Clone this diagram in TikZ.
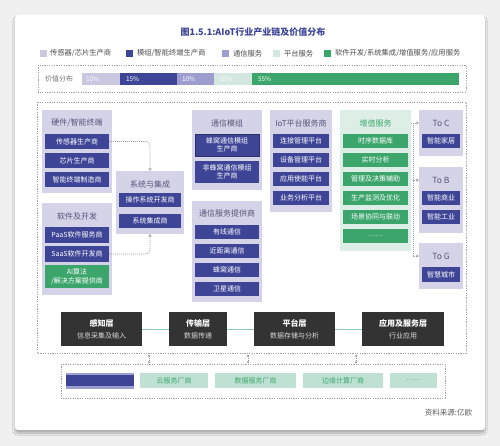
\documentclass[tikz,border=0pt]{standalone}
\usepackage{fontspec}
\setmainfont{Noto Sans CJK SC}
\usetikzlibrary{arrows.meta,shadows.blur}
\definecolor{lav}{HTML}{D5D3E7}
\definecolor{lavL}{HTML}{CAC8E0}
\definecolor{navy}{HTML}{3E4596}
\definecolor{peri}{HTML}{9D9ECF}
\definecolor{mintL}{HTML}{D3E6DF}
\definecolor{mintP}{HTML}{DCEEE6}
\definecolor{mintB}{HTML}{BFE1D4}
\definecolor{grn}{HTML}{3CA56C}
\definecolor{ttl}{HTML}{55557A}
\definecolor{dk}{HTML}{333333}
\definecolor{gline}{HTML}{8FCCAE}
\definecolor{dsh}{HTML}{A0A0A0}
\newcommand\bx[7]{\node[#6,anchor=north west,minimum width=#4pt-#2pt,minimum height=#5pt-#3pt] (#1) at (#2,#3) {#7};}
\tikzset{
  every node/.style={inner sep=0pt,outer sep=0pt,align=center},
  panel/.style={fill=lav},
  mpanel/.style={fill=mintP},
  item/.style={fill=navy,text=white,font=\fontsize{7}{8.5}\selectfont},
  gitem/.style={fill=grn,text=white,font=\fontsize{7}{8.5}\selectfont},
  ptitle/.style={text=ttl,font=\fontsize{8}{9}\selectfont},
  layerbox/.style={fill=dk,text=white},
  vitem/.style={fill=mintB,text=grn,font=\fontsize{7}{8}\selectfont},
  dbox/.style={draw=dsh,line width=0.6pt,dash pattern=on 1.2pt off 1.2pt},
  darr/.style={draw=dsh,line width=0.7pt,dash pattern=on 1pt off 1pt,-{Stealth[length=3pt,width=3pt]}},
  legtxt/.style={text=black!70,font=\fontsize{7.3}{8}\selectfont,anchor=west},
  bartxt/.style={font=\fontsize{6.5}{7}\selectfont,anchor=west},
}
\begin{document}
\begin{tikzpicture}[x=1pt,y=-1pt]
\useasboundingbox (0,0) rectangle (500,446);
\fill[black!6] (0,0) rectangle (500,446);
\fill[white,rounded corners=3pt,blur shadow={shadow xshift=0pt,shadow yshift=-3pt,shadow blur steps=10,shadow opacity=30}] (15,15) rectangle (485,430);
% title
\node[text=navy,font=\bfseries\fontsize{9}{10}\selectfont] (title) at (253,32) {图1.5.1:AIoT行业产业链及价值分布};
% legend
\fill[lavL] (40,50) rectangle (47,57);
\node[legtxt] (lg1) at (50,53.5) {传感器/芯片生产商};
\fill[navy] (126,50) rectangle (133,57);
\node[legtxt] (lg2) at (137,53.5) {模组/智能终端生产商};
\fill[peri] (222,50) rectangle (229,57);
\node[legtxt] (lg3) at (233,53.5) {通信服务};
\fill[mintL] (273,50) rectangle (280,57);
\node[legtxt] (lg4) at (284,53.5) {平台服务};
\fill[grn] (324,50) rectangle (331,57);
\node[legtxt] (lg5) at (335,53.5) {软件开发/系统集成/增值服务/应用服务};
% value bar
\draw[dbox] (38,65) rectangle (466,92);
\node[text=black!55,font=\fontsize{7}{8}\selectfont,anchor=west] (vl) at (45,79) {价值分布};
\bx{v1}{82}{73}{120}{85}{fill=lavL}{}
\bx{v2}{120}{73}{177}{85}{fill=navy}{}
\bx{v3}{177}{73}{214}{85}{fill=peri}{}
\bx{v4}{214}{73}{252}{85}{fill=mintL}{}
\bx{v5}{252}{73}{459}{85}{fill=grn}{}
\node[bartxt,text=white!90!lavL] at (86,79) {10\%};
\node[bartxt,text=white] at (126,79) {15\%};
\node[bartxt,text=white] at (182,79) {10\%};
\node[bartxt,text=white] at (219,79) {10\%};
\node[bartxt,text=white] at (258,79) {55\%};
% main dashed box
\draw[dbox] (37,102) rectangle (466,353);
% hardware
\bx{hw}{42}{110}{112}{193}{panel}{}
\node[ptitle] (hwT) at (77,123) {硬件/智能终端};
\bx{hw1}{45}{134}{109}{149}{item}{传感器生产商}
\bx{hw2}{45}{153}{109}{168}{item}{芯片生产商}
\bx{hw3}{45}{172}{109}{187}{item}{智能终端制造商}
% software
\bx{sw}{42}{203}{112}{295}{panel}{}
\node[ptitle] (swT) at (77,216) {软件及开发};
\bx{sw1}{45}{227}{109}{243}{item}{PaaS软件服务商}
\bx{sw2}{45}{246}{109}{262}{item}{SaaS软件开发商}
\bx{sw3}{45}{265}{109}{288}{gitem}{AI算法\\/解决方案提供商}
% system
\bx{sys}{116}{171}{184}{234}{panel}{}
\node[ptitle] (sysT) at (150,184) {系统与集成};
\bx{sys1}{119}{193}{181}{207}{item}{操作系统开发商}
\bx{sys2}{119}{214}{181}{228}{item}{系统集成商}
\draw[darr,rounded corners=4pt] (hw1.east) -| (sys.north);
\draw[darr,rounded corners=4pt] (sw2.east) -| (sys.south);
% comm module
\bx{cm}{192}{110}{262}{190}{panel}{}
\node[ptitle] (cmT) at (227,123) {通信模组};
\bx{cm1}{195}{134}{259}{156}{item,draw=navy!70!black,line width=0.8pt}{蜂窝通信模组\\生产商}
\bx{cm2}{195}{161}{259}{183}{item}{非蜂窝通信模组\\生产商}
% comm service
\bx{cs}{192}{201}{262}{302}{panel}{}
\node[ptitle] (csT) at (227,213) {通信服务提供商};
\bx{cs1}{195}{225}{259}{239}{item}{有线通信}
\bx{cs2}{195}{244}{259}{258}{item}{近距离通信}
\bx{cs3}{195}{263}{259}{277}{item}{蜂窝通信}
\bx{cs4}{195}{282}{259}{296}{item}{卫星通信}
% IoT
\bx{iot}{270}{110}{332}{212}{panel}{}
\node[ptitle] (iotT) at (301,123) {IoT平台服务商};
\bx{iot1}{273}{134}{329}{148}{item}{连接管理平台}
\bx{iot2}{273}{153}{329}{167}{item}{设备管理平台}
\bx{iot3}{273}{172}{329}{186}{item}{应用使能平台}
\bx{iot4}{273}{191}{329}{205}{item}{业务分析平台}
% value-added
\bx{zz}{340}{110}{411}{251}{mpanel}{}
\node[ptitle,text=grn] (zzT) at (375.5,123) {增值服务};
\bx{zz1}{343}{134}{408}{148}{gitem}{时序数据库}
\bx{zz2}{343}{153}{408}{167}{gitem}{实时分析}
\bx{zz3}{343}{172}{408}{186}{gitem}{管理及决策辅助}
\bx{zz4}{343}{191}{408}{205}{gitem}{生产监测及优化}
\bx{zz5}{343}{210}{408}{224}{gitem}{场景协同与联动}
\bx{zz6}{343}{229}{408}{243}{gitem}{……}
% To C/B/G
\bx{toC}{419}{110}{463}{156}{panel}{}
\node[ptitle,font=\fontsize{8.5}{9}\selectfont] (tcT) at (441,123) {To C};
\bx{tc1}{422}{134}{460}{148}{item}{智能家居}
\bx{toB}{419}{167}{463}{233}{panel}{}
\node[ptitle,font=\fontsize{8.5}{9}\selectfont] (tbT) at (441,180) {To B};
\bx{tb1}{422}{191}{460}{205}{item}{智能商业}
\bx{tb2}{422}{210}{460}{224}{item}{智能工业}
\bx{toG}{419}{243}{463}{289}{panel}{}
\node[ptitle,font=\fontsize{8.5}{9}\selectfont] (tgT) at (441,256) {To G};
\bx{tg1}{422}{267}{460}{282}{item}{智慧城市}
\coordinate (rv) at (413,123);
\draw[darr] (zz.north east |- tcT) -- (tcT -| toC.west);
\draw[darr] (rv) |- (tbT -| toB.west);
\draw[darr] (rv) |- (tgT -| toG.west);
% layers
\bx{l1}{61}{312}{142}{346}{layerbox}{{\bfseries\fontsize{8}{10}\selectfont 感知层}\\{\fontsize{7}{9}\selectfont\color{black!15} 信息采集及输入}}
\bx{l2}{169}{312}{227}{346}{layerbox}{{\bfseries\fontsize{8}{10}\selectfont 传输层}\\{\fontsize{7}{9}\selectfont\color{black!15} 数据传递}}
\bx{l3}{254}{312}{335}{346}{layerbox}{{\bfseries\fontsize{8}{10}\selectfont 平台层}\\{\fontsize{7}{9}\selectfont\color{black!15} 数据存储与分析}}
\bx{l4}{362}{312}{444}{346}{layerbox}{{\bfseries\fontsize{8}{10}\selectfont 应用及服务层}\\{\fontsize{7}{9}\selectfont\color{black!15} 行业应用}}
\draw[gline,line width=0.8pt] (l1.east) -- (l2.west);
\draw[gline,line width=0.8pt] (l2.east) -- (l3.west);
\draw[gline,line width=0.8pt] (l3.east) -- (l4.west);
% small double arrows
\foreach \x [count=\i] in {149,248,356}{
  \coordinate (da\i) at (\x,354.5);
  \coordinate (db\i) at (\x,363.5);
  \draw[draw=black!45,line width=0.6pt,dash pattern=on 1pt off 1pt,{Stealth[length=2.2pt,width=2.5pt]}-{Stealth[length=2.2pt,width=2.5pt]}] (da\i) -- (db\i);
}
% bottom box
\draw[dbox] (61,364) rectangle (445,398);
\bx{b0s}{66}{373}{134}{389}{fill=peri}{}
\bx{b0}{66}{375}{134}{386}{fill=navy}{}
\bx{b1}{140}{373}{208}{388}{vitem}{云服务厂商}
\bx{b2}{215}{373}{296}{388}{vitem}{数据服务厂商}
\bx{b3}{303}{373}{383}{388}{vitem}{边缘计算厂商}
\bx{b4}{390}{373}{437}{388}{vitem}{……}
% source
\node[anchor=east,text=black!65,font=\fontsize{7.5}{8}\selectfont] (src) at (472,413) {资料来源:亿欧};
\end{tikzpicture}
\end{document}
